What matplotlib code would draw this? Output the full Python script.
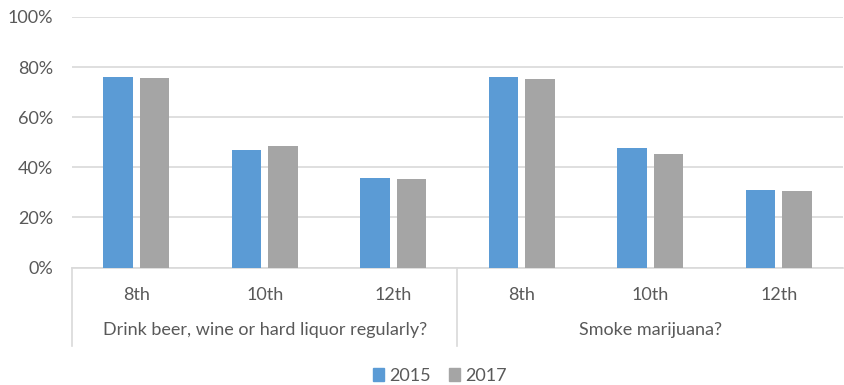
import matplotlib
matplotlib.use("Agg")
import matplotlib.pyplot as plt
import matplotlib.transforms as mtransforms
from matplotlib.patches import Patch
import numpy as np

plt.rcParams['font.family'] = ['Lato', 'DejaVu Sans']

grades = ["8th", "10th", "12th", "8th", "10th", "12th"]
groups = ["Drink beer, wine or hard liquor regularly?", "Smoke marijuana?"]
years = ["2015", "2017"]
vals_2015 = [76.1, 46.9, 35.7, 75.9, 47.6, 30.9]
vals_2017 = [75.5, 48.4, 35.2, 75.1, 45.2, 30.4]
yticks = [0, 20, 40, 60, 80, 100]

blue = "#5B9BD5"
gray = "#A5A5A5"
text_c = "#595959"
grid_c = "#D9D9D9"
fs = 13

fig = plt.figure(figsize=(8.45, 3.85), dpi=100)
W, H = 845, 385
ax = fig.add_axes([72 / W, 1 - 267.5 / H, 771 / W, 250.5 / H])

x = np.arange(len(grades))
bw = 0.23
off = 0.1435
ax.bar(x - off, vals_2015, bw, color=blue, zorder=3)
ax.bar(x + off, vals_2017, bw, color=gray, zorder=3)

ax.set_xlim(-0.5, len(grades) - 0.5)
ax.set_ylim(0, 100)
ax.set_yticks(yticks)
ax.set_yticklabels([f"{t}%" for t in yticks], color=text_c, fontsize=fs)
ax.tick_params(axis="y", length=0, pad=13.5)
ax.yaxis.grid(True, color=grid_c, linewidth=1.2, zorder=0)
ax.set_xticks([])
for s in ["top", "right", "left"]:
    ax.spines[s].set_visible(False)
ax.spines["bottom"].set_color(grid_c)
ax.spines["bottom"].set_linewidth(1.2)

trans = mtransforms.blended_transform_factory(ax.transData, fig.transFigure)
for xi, g in zip(x, grades):
    ax.text(xi, 1 - 295 / H, g, transform=trans, ha="center", va="center",
            color=text_c, fontsize=fs)
n = len(grades) // len(groups)
for gi, g in enumerate(groups):
    cx = gi * n + (n - 1) / 2
    ax.text(cx, 1 - 330 / H, g, transform=trans, ha="center", va="center",
            color=text_c, fontsize=fs)
for gi in range(len(groups)):
    xb = gi * n - 0.5
    ax.plot([xb, xb], [1 - 267.5 / H, 1 - 346 / H], transform=trans,
            color=grid_c, linewidth=1.2, clip_on=False)

handles = [Patch(color=blue, label=years[0]), Patch(color=gray, label=years[1])]
leg = fig.legend(handles=handles, loc="center", bbox_to_anchor=(440 / W, 1 - 376 / H),
                 ncol=2, frameon=False, fontsize=fs, handlelength=0.6,
                 handleheight=0.75, handletextpad=0.3, columnspacing=1.0)
for t in leg.get_texts():
    t.set_color(text_c)

fig.savefig("out.png", dpi=100, facecolor="white")
